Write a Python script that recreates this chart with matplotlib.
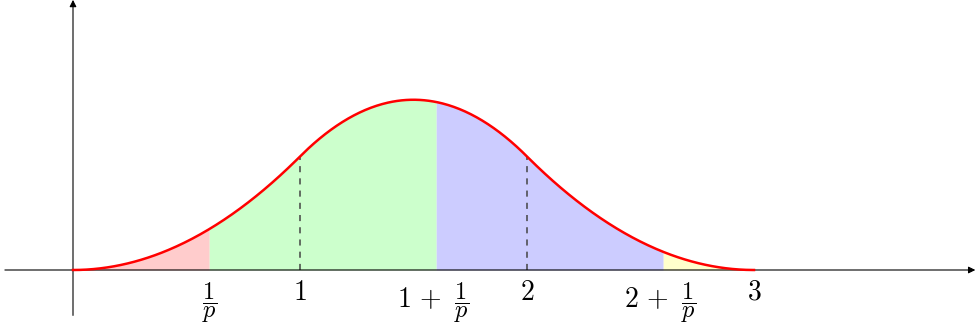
import matplotlib.pyplot as plt
import numpy as np

plt.rcParams['mathtext.fontset'] = 'cm'

# knots of the quadratic B-spline and the shift 1/p (p = 5/3)
knots = [0, 1, 2, 3]
inv_p = 0.6
# shaded regions: boundaries and colours
bounds = [0, inv_p, 1 + inv_p, 2 + inv_p, 3]
fills = ['#ffcccc', '#ccffcc', '#ccccff', '#ffffcc']
# tick positions and labels on the x axis (integer part, plus 1/p or not)
tick_pos = [inv_p, 1, 1 + inv_p, 2, 2 + inv_p, 3]
tick_int = ['', '1', '1+', '2', '2+', '3']
tick_frac = [True, False, True, False, True, False]
# dashed guides at the inner knots
guides = [1, 2]


def bspline2(x):
  # uniform quadratic B-spline on knots 0..3
  x = np.asarray(x, dtype=float)
  y = np.zeros_like(x)
  m = (x >= 0) & (x < 1)
  y[m] = 0.5 * x[m] ** 2
  m = (x >= 1) & (x < 2)
  y[m] = 0.5 * (-2 * x[m] ** 2 + 6 * x[m] - 3)
  m = (x >= 2) & (x <= 3)
  y[m] = 0.5 * (3 - x[m]) ** 2
  return y


def main():
  fig = plt.figure(figsize=(9.77, 3.33), dpi=100)
  ax = fig.add_axes([0, 0, 1, 1])
  s = 227.0
  ax.set_xlim(-73 / s, (977 - 73) / s)
  ax.set_ylim(-63 / s, 270 / s)
  ax.axis('off')

  for a, b, c in zip(bounds[:-1], bounds[1:], fills):
    xs = np.linspace(a, b, 200)
    ax.fill_between(xs, 0, bspline2(xs), color=c, lw=0, zorder=1)

  for g in guides:
    ax.plot([g, g], [0, bspline2([g])[0]], color='#444444', lw=1.1,
            dashes=(4, 4), zorder=2)

  xs = np.linspace(knots[0], knots[-1], 600)
  ax.plot(xs, bspline2(xs), color='red', lw=1.8, zorder=4)

  ax.annotate('', xy=(3.975, 0), xytext=(-0.3, 0),
              arrowprops=dict(arrowstyle='-|>', lw=0.8, color='black',
                              mutation_scale=10, shrinkA=0, shrinkB=0),
              zorder=3)
  ax.annotate('', xy=(0, 1.19), xytext=(0, -0.2),
              arrowprops=dict(arrowstyle='-|>', lw=0.8, color='black',
                              mutation_scale=10, shrinkA=0, shrinkB=0),
              zorder=3)

  frac = r'$\dfrac{1}{p}$'
  for xp, base, hasfrac in zip(tick_pos, tick_int, tick_frac):
    if not hasfrac:
      ax.annotate('$%s$' % base, xy=(xp, 0), xytext=(0, -8),
                  textcoords='offset pixels', ha='center', va='top',
                  fontsize=20)
    elif base == '':
      ax.annotate(frac, xy=(xp, 0), xytext=(0, -10),
                  textcoords='offset pixels', ha='center', va='top',
                  fontsize=17.5)
    else:
      ax.annotate('$%s$' % base.replace('+', r'\,+'), xy=(xp, 0),
                  xytext=(6, -37), textcoords='offset pixels',
                  ha='right', va='baseline', fontsize=20)
      ax.annotate(frac, xy=(xp, 0), xytext=(25, -10),
                  textcoords='offset pixels', ha='center', va='top',
                  fontsize=17.5)

  fig.savefig('out.png', dpi=100)


if __name__ == "__main__":
  main()
